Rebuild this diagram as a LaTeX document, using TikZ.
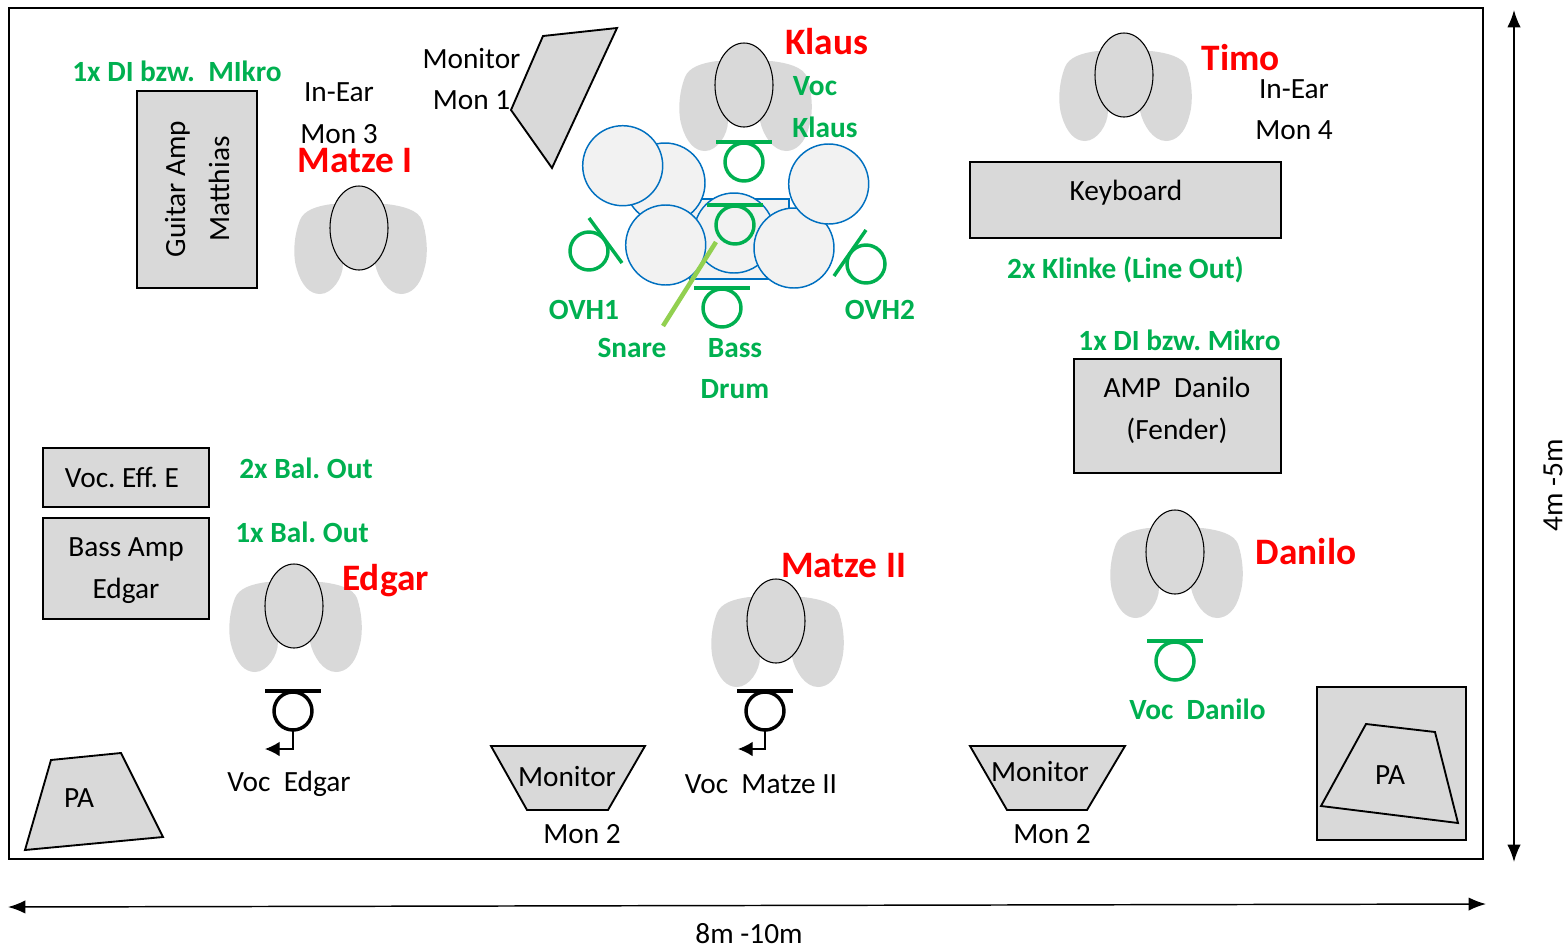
\documentclass[tikz,border=0pt]{standalone}
\usepackage{fontspec}
\setmainfont{Carlito}
\usetikzlibrary{arrows.meta}
\definecolor{grn}{HTML}{00B050}
\definecolor{stick}{HTML}{92D050}
\definecolor{gry}{HTML}{D9D9D9}
\definecolor{blu}{HTML}{0070C0}
\definecolor{drumfill}{HTML}{F2F2F2}
\tikzset{
  txt/.style={inner sep=0pt,font=\fontsize{22pt}{24pt}\selectfont,text=black},
  gtxt/.style={inner sep=0pt,font=\fontsize{22pt}{24pt}\selectfont\bfseries,text=grn},
  rtxt/.style={inner sep=0pt,font=\fontsize{28pt}{30pt}\selectfont\bfseries,text=red},
  poly/.style={draw=black,fill=gry,line width=1.4pt,line join=miter},
  drum/.style={draw=blu,fill=drumfill,line width=1.1pt},
  dim/.style={draw=black,line width=1.1pt,{Latex[length=13pt,width=10pt]}-{Latex[length=13pt,width=10pt]}},
  pics/person/.style={code={
    \fill[gry] (-27,-24) .. controls (-42,-22) and (-55,-18) .. (-59,-8)
      .. controls (-66,10) and (-66,30) .. (-62,42)
      .. controls (-57,58) and (-49,66) .. (-39,66)
      .. controls (-27,66) and (-16,50) .. (-16,36) -- (16,36)
      .. controls (19,50) and (29,66) .. (42,66)
      .. controls (52,66) and (61,58) .. (65,42)
      .. controls (69,30) and (69,10) .. (63,-8)
      .. controls (59,-18) and (44,-22) .. (27,-24) -- cycle;
    \draw[black,fill=gry,line width=0.8pt] (0,0) ellipse [x radius=29,y radius=42];
  }},
  pics/vmic/.style={code={
    \draw[line width=2.6pt,draw=#1] (-28,-20) -- (28,-20);
    \draw[line width=2.6pt,draw=#1] (0,0) circle [radius=19];
  }},
}
\frenchspacing
\begin{document}
\begin{tikzpicture}[x=0.75pt,y=-0.75pt]
\useasboundingbox (0,0) rectangle (1568,950);
\draw[black,line width=1.4pt] (9,8) rectangle (1483,859);
% dimension arrows
\coordinate (vt) at (1514,10); \coordinate (vb) at (1514,862);
\coordinate (hl) at (8,907); \coordinate (hr) at (1486,904);
\draw[dim] (vt) -- (vb);
\draw[dim] (hl) -- (hr);
\node[txt,rotate=90] (dimv) at (1553,485) {4m -5m};
\node[txt] (dimh) at (749,934) {8m -10m};
% boxes
\draw[poly,line width=1.2pt] (137,91) rectangle (257,288);
\node[txt,rotate=90] (guitar) at (177.5,189) {Guitar Amp};
\node[txt,rotate=90] (matthias) at (219,189) {Matthias};
\draw[poly,line width=1.2pt] (970,162) rectangle (1281,238);
\node[txt] (keyboard) at (1126,193) {Keyboard};
\draw[poly,line width=1.2pt] (1074,359) rectangle (1281,473);
\node[txt] (ampa) at (1177,387) {AMP\ \ Danilo};
\node[txt] (ampb) at (1177,431) {(Fender)};
\draw[poly,line width=1.2pt] (43,448) rectangle (209,507);
\node[txt] (voceff) at (122,477) {Voc. Eff. E};
\draw[poly,line width=1.2pt] (43,518) rectangle (209,619);
\node[txt] (bassa) at (126,549) {Bass Amp};
\node[txt] (bassb) at (126,591) {Edgar};
\draw[poly,line width=1.2pt] (1317,687) rectangle (1466,840);
% speakers
\draw[poly] (543,36) -- (617,28) -- (552,168) -- (511,110) -- cycle;
\draw[poly] (51,760) -- (121,753) -- (163,837) -- (25,850) -- cycle;
\draw[poly] (491,746) -- (645,746) -- (608,810) -- (527,810) -- cycle;
\draw[poly] (970,746) -- (1125,746) -- (1087,810) -- (1007,810) -- cycle;
\draw[poly] (1366,724) -- (1435,732) -- (1458,823) -- (1321,806) -- cycle;
\node[txt] (pal) at (79,798) {PA};
\node[txt] (par) at (1390,775) {PA};
\node[txt] (mona) at (567,777) {Monitor};
\node[txt] (monb) at (1040,772) {Monitor};
\node[txt] (monc) at (582,834) {Mon 2};
\node[txt] (mond) at (1052,834) {Mon 2};
\node[txt] (mone) at (471.5,59) {Monitor};
\node[txt] (monf) at (471.5,100) {Mon 1};
\node[txt] (iea) at (339,92) {In-Ear};
\node[txt] (ieb) at (339,134) {Mon 3};
\node[txt] (iec) at (1294,89) {In-Ear};
\node[txt] (ied) at (1294,130) {Mon 4};
% persons
\pic at (744,85) {person};
\pic at (1124,75) {person};
\pic at (359,228) {person};
\pic at (294,606) {person};
\pic at (776,621) {person};
\pic at (1175,552) {person};
% drums
\draw[drum] (690,199) rectangle (789,279);
\draw[drum] (665,183) circle [radius=40];
\draw[drum] (734,233) circle [radius=40];
\draw[drum] (622.7,165.7) circle [radius=40];
\draw[drum] (665.7,245) circle [radius=40];
\draw[drum] (794,248) circle [radius=40];
\draw[drum] (828.7,184) circle [radius=40];
% microphones
\pic at (744,162) {vmic=grn};
\pic at (735,225) {vmic=grn};
\pic at (722,308) {vmic=grn};
\pic at (1175,661) {vmic=grn};
\pic at (293,711) {vmic=black};
\pic at (765,711) {vmic=black};
\draw[grn,line width=2.6pt] (589,251) circle [radius=19];
\draw[grn,line width=2.6pt] (589,218) -- (622,263);
\draw[grn,line width=2.6pt] (866,264) circle [radius=19];
\draw[grn,line width=2.6pt] (866,230) -- (834,276);
\draw[stick,line width=3.4pt] (716,242) -- (663,326);
% mic cables
\coordinate (ma) at (293,730); \coordinate (mb) at (265,749);
\coordinate (mc) at (765,730); \coordinate (md) at (738,749);
\draw[black,line width=1pt,-{Latex[length=11pt,width=11pt]}] (ma) |- (mb);
\draw[black,line width=1pt,-{Latex[length=11pt,width=11pt]}] (mc) |- (md);
% green labels
\node[gtxt] (la) at (177,71) {1x DI bzw.\ \ MIkro};
\node[gtxt] (lb) at (815,86) {Voc};
\node[gtxt] (lc) at (825,127) {Klaus};
\node[gtxt] (ld) at (584,310) {OVH1};
\node[gtxt] (le) at (880,310) {OVH2};
\node[gtxt] (lf) at (632,348) {Snare};
\node[gtxt] (lg) at (735,348) {Bass};
\node[gtxt] (lh) at (735,389) {Drum};
\node[gtxt] (li) at (1125.5,270) {2x Klinke (Line Out)};
\node[gtxt] (lj) at (1179.5,340) {1x DI bzw. Mikro};
\node[gtxt] (lk) at (306,468) {2x Bal. Out};
\node[gtxt] (ll) at (302,532) {1x Bal. Out};
\node[gtxt] (lm) at (1197.5,709) {Voc\ \ Danilo};
% black mic labels
\node[txt] (vedgar) at (289,784) {Voc\ \ Edgar};
\node[txt] (vmatze) at (761,784) {Voc\ \ Matze II};
% red names
\node[rtxt] (klaus) at (826.5,42) {Klaus};
\node[rtxt] (timo) at (1241,58) {Timo};
\node[rtxt] (matzei) at (355,161) {Matze I};
\node[rtxt] (edgar) at (385.5,581) {Edgar};
\node[rtxt] (matzeii) at (843.5,566) {Matze II};
\node[rtxt] (danilo) at (1306,552) {Danilo};
\end{tikzpicture}
\end{document}
